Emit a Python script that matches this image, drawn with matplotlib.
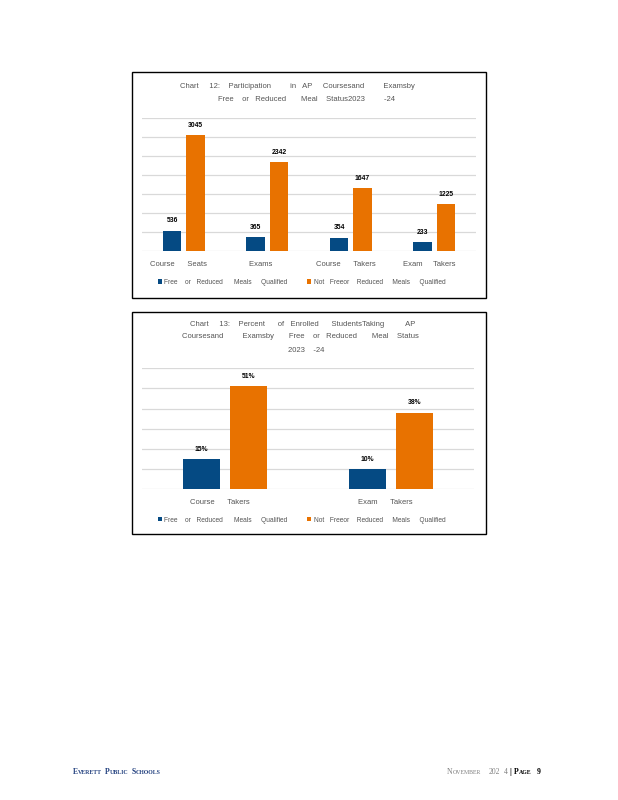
import numpy as np
import matplotlib
matplotlib.use("Agg")
import matplotlib.pyplot as plt
from matplotlib.patches import Rectangle

W, H = 618, 800

BLUE = "#054A83"
ORANGE = "#E87200"
GRAY_TXT = "#555555"
GRID = "#D9D9D9"

plt.rcParams["font.family"] = ["Liberation Sans Narrow", "Liberation Sans", "DejaVu Sans"]

# Chart 12: participation counts
cats12 = ["Course      Seats     ", "Exams      ",
          "Course      Takers     ", "Exam     Takers     "]
frl12 = [536, 365, 354, 233]
not_frl12 = [3045, 2342, 1647, 1225]

# Chart 13: percent of enrolled students
cats13 = ["Course      Takers     ", "Exam      Takers     "]
frl13 = [15, 10]
not_frl13 = [51, 38]

series_labels = ["Free    or   Reduced      Meals     Qualified",
                 "Not   Freeor    Reduced     Meals     Qualified"]

title12 = ["Chart     12:    Participation         in   AP     Coursesand         Examsby",
           "Free    or   Reduced       Meal    Status2023         -24"]
title13 = ["Chart     13:    Percent      of   Enrolled      StudentsTaking          AP",
           "Coursesand         Examsby       Free    or   Reduced       Meal    Status",
           "2023    -24"]


def px_rect(x0, y0, x1, y1):
    """pixel box (top-left origin) -> figure fraction rect"""
    return [x0 / W, 1 - y1 / H, (x1 - x0) / W, (y1 - y0) / H]


def draw_bars(ax, cats, a, b, ymax, step, fmt):
    x = np.arange(len(cats))
    ba = ax.bar(x - 0.14, a, width=0.225, color=BLUE, zorder=3)
    bb = ax.bar(x + 0.14, b, width=0.225, color=ORANGE, zorder=3)
    ax.set_xlim(-0.5, len(cats) - 0.5)
    ax.set_ylim(0, ymax)
    ax.set_yticks(np.arange(0, ymax + step, step))
    ax.yaxis.grid(True, color=GRID, linewidth=0.9)
    ax.set_axisbelow(True)
    for s in ax.spines.values():
        s.set_visible(False)
    ax.tick_params(left=False, bottom=False, labelleft=False)
    ax.tick_params(axis="x", pad=4.0, labelsize=5.5, labelcolor=GRAY_TXT)
    ax.set_xticks(x)
    ax.set_xticklabels(cats)
    for cont, vals in ((ba, a), (bb, b)):
        ax.bar_label(cont, labels=[fmt(v) for v in vals], padding=4.5,
                     fontsize=4.9, fontweight="bold", color="black")
    return ba, bb


def add_legend(ax, handles, y_px):
    ax.legend(handles, series_labels, loc="center left", ncol=2,
              bbox_to_anchor=(157.5 / W, 1 - y_px / H),
              bbox_transform=ax.figure.transFigure,
              frameon=False, fontsize=4.8, labelcolor=GRAY_TXT,
              handlelength=0.62, handleheight=0.62, handletextpad=0.4,
              columnspacing=2.9, borderpad=0, borderaxespad=0)


def run_text(page, renderer, x, y, parts):
    """draw pieces one after another (for small caps)"""
    for s, size, weight, color, gap in parts:
        t = page.text(x, y, s, fontsize=size, fontweight=weight, color=color,
                      family=["Liberation Serif", "DejaVu Serif"],
                      ha="left", va="baseline")
        x += t.get_window_extent(renderer).width + gap
    return x


fig = plt.figure(figsize=(W / 100, H / 100), dpi=100)

page = fig.add_axes([0, 0, 1, 1])
page.set_xlim(0, W)
page.set_ylim(H, 0)
page.axis("off")

# chart frames
page.add_patch(Rectangle((131.5, 72), 354, 225.5, fill=False, edgecolor="black", linewidth=1))
page.add_patch(Rectangle((131.5, 312), 354, 222, fill=False, edgecolor="black", linewidth=1))

# Chart 12
ax1 = fig.add_axes(px_rect(142, 117.7, 476, 251))
ax1.patch.set_alpha(0)
h1 = draw_bars(ax1, cats12, frl12, not_frl12, 3500, 500, lambda v: f"{v}")
add_legend(ax1, h1, 282.3)
page.text(297.5, 86, title12[0], fontsize=5.5, color=GRAY_TXT, ha="center", va="center")
page.text(306, 99.3, title12[1], fontsize=5.5, color=GRAY_TXT, ha="center", va="center")

# Chart 13
ax2 = fig.add_axes(px_rect(142, 368.3, 474, 489))
ax2.patch.set_alpha(0)
h2 = draw_bars(ax2, cats13, frl13, not_frl13, 60, 10, lambda v: f"{v}%")
add_legend(ax2, h2, 520)
page.text(303, 325, title13[0], fontsize=5.5, color=GRAY_TXT, ha="center", va="center")
page.text(300, 336.7, title13[1], fontsize=5.5, color=GRAY_TXT, ha="center", va="center")
page.text(288, 350, title13[2], fontsize=5.5, color=GRAY_TXT, ha="left", va="center")

# footer
renderer = fig.canvas.get_renderer()
FOOT_BLUE = "#22407F"
big, small = 5.5, 4.2
run_text(page, renderer, 73, 773.5, [
    ("E", big, "bold", FOOT_BLUE, 0), ("VERETT", small, "bold", FOOT_BLUE, 3),
    ("P", big, "bold", FOOT_BLUE, 0), ("UBLIC", small, "bold", FOOT_BLUE, 3),
    ("S", big, "bold", FOOT_BLUE, 0), ("CHOOLS", small, "bold", FOOT_BLUE, 0),
])
run_text(page, renderer, 447, 773.5, [
    ("N", big, "normal", "#7F7F7F", 0), ("OVEMBER", small, "normal", "#7F7F7F", 8),
    ("202", big, "normal", "#7F7F7F", 3), ("4", big, "normal", "#7F7F7F", 2),
    ("|", big + 1, "bold", "black", 3),
    ("P", big, "bold", "black", 0), ("AGE", small, "bold", "black", 5),
    ("9", big, "bold", "black", 0),
])

fig.savefig("out.png", dpi=100)
